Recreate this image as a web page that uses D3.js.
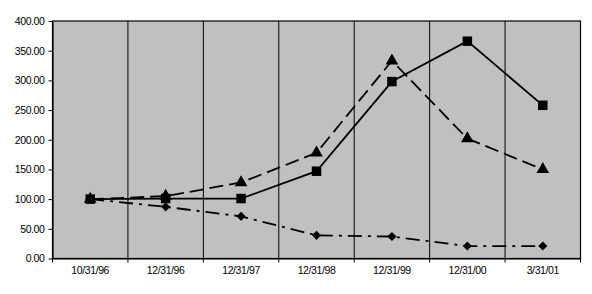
<!DOCTYPE html>
<html><head><meta charset="utf-8">
<script src="https://cdn.jsdelivr.net/npm/d3@7"></script>
<style>body{margin:0;background:#fff}svg{display:block}text{font-family:Arial,"Liberation Sans",sans-serif}</style>
</head><body>
<svg id="c" width="592" height="294"></svg>
<script>
const categories = ["10/31/96","12/31/96","12/31/97","12/31/98","12/31/99","12/31/00","3/31/01"];
const seriesSquare = [100, 101, 101, 147, 298, 366, 258];
const seriesTriangle = [100, 105, 128, 178, 333, 202, 150];
const seriesDiamond = [100, 87, 71, 39, 37, 21, 21];
const yTicks = [0,50,100,150,200,250,300,350,400];

const svg = d3.select("#c");
const m = {l:52.5, t:21, r:580.5, b:258.5};
const x = d3.scaleBand().domain(categories).range([m.l, m.r]);
const y = d3.scaleLinear().domain([0,400]).range([m.b, m.t]);
const cx = d => x(d) + x.bandwidth()/2;

svg.append("rect").attr("x",m.l).attr("y",m.t).attr("width",m.r-m.l).attr("height",m.b-m.t)
  .attr("fill","#c0c0c0").attr("stroke","#000").attr("stroke-width",1.2);

categories.slice(1).forEach(c=>{
  svg.append("line").attr("x1",x(c)).attr("x2",x(c)).attr("y1",m.t).attr("y2",m.b)
    .attr("stroke","#000").attr("stroke-width",1);
});

const ya = svg.append("g").attr("transform",`translate(${m.l},0)`)
  .call(d3.axisLeft(y).tickValues(yTicks).tickSize(4).tickSizeOuter(0).tickFormat(d3.format(".2f")));
ya.select(".domain").attr("stroke","#000").attr("stroke-width",1.2);
ya.selectAll("text").attr("font-size",10.5).attr("fill","#000").attr("dx",-1).attr("letter-spacing",-0.4);

const xa = svg.append("g").attr("transform",`translate(0,${m.b})`)
  .call(d3.axisBottom(x).tickSize(0).tickSizeOuter(0));
xa.select(".domain").attr("stroke","#000").attr("stroke-width",1.2);
xa.selectAll("text").attr("font-size",10.5).attr("fill","#000").attr("dy","1.2em").attr("letter-spacing",-0.4);
const bounds = categories.map(c=>x(c)).concat([m.r]);
svg.append("g").selectAll("line").data(bounds).join("line")
  .attr("x1",d=>d).attr("x2",d=>d).attr("y1",m.b).attr("y2",m.b+4).attr("stroke","#000");

const line = d3.line().x((d,i)=>cx(categories[i])).y(d=>y(d));

function drawSeries(vals, dash, symType, size, rot){
  svg.append("path").datum(vals).attr("d",line).attr("fill","none")
    .attr("stroke","#000").attr("stroke-width",1.8).attr("stroke-dasharray",dash);
  svg.append("g").selectAll("path").data(vals).join("path")
    .attr("transform",(d,i)=>`translate(${cx(categories[i])},${y(d)}) rotate(${rot||0})`)
    .attr("d",d3.symbol().type(symType).size(size)).attr("fill","#000");
}
drawSeries(seriesDiamond, "14,6,3,6", d3.symbolSquare, 42, 45);
drawSeries(seriesTriangle, "14,6", d3.symbolTriangle, 70);
drawSeries(seriesSquare, null, d3.symbolSquare, 90);
</script>
</body></html>
